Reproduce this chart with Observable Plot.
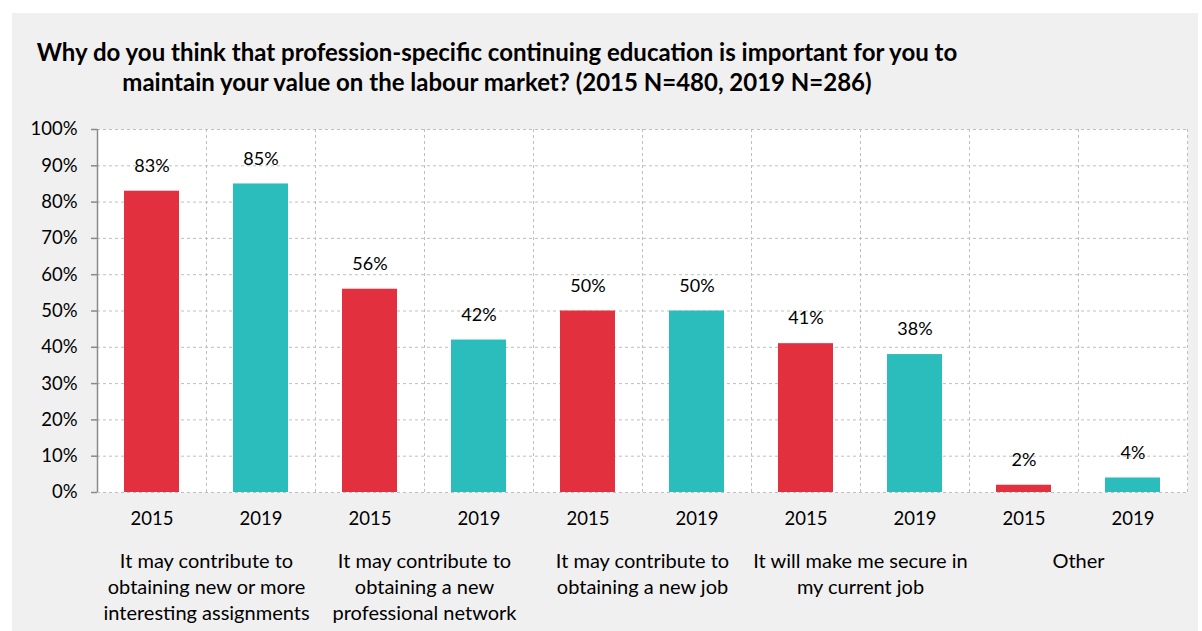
<!DOCTYPE html>
<html>
<head>
<meta charset="utf-8">
<script src="https://cdn.jsdelivr.net/npm/d3@7"></script>
<script src="https://cdn.jsdelivr.net/npm/@observablehq/plot@0.6"></script>
<style>
  body { margin: 0; background: #ffffff; font-family: Lato, "Open Sans", sans-serif; }
  #panel { position: absolute; left: 12px; top: 13px; width: 1186px; height: 618px; background: #f0f0f0; }
  #title { position: absolute; left: 12px; top: 37px; width: 970px; text-align: center; font-weight: bold; font-size: 24px; line-height: 30px; color: #000; }
  #chart { position: absolute; left: 0; top: 100px; }
</style>
</head>
<body>
<div id="panel"></div>
<div id="title">Why do you think that profession-specific continuing education is important for you to<br>maintain your value on the labour market? (2015 N=480, 2019 N=286)</div>
<div id="chart"></div>
<script>
const categories = [
  "It may contribute to\nobtaining new or more\ninteresting assignments",
  "It may contribute to\nobtaining a new\nprofessional network",
  "It may contribute to\nobtaining a new job",
  "It will make me secure in\nmy current job",
  "Other"
];
const years = ["2015", "2019"];
const values2015 = [83, 56, 50, 41, 2];
const values2019 = [85, 42, 50, 38, 4];
const yTicks = [0, 10, 20, 30, 40, 50, 60, 70, 80, 90, 100];
const colors = ["#e3303e", "#2bbdbc"];

const rows = [];
categories.forEach((c, k) => {
  rows.push({i: 2 * k, year: years[0], value: values2015[k], category: c});
  rows.push({i: 2 * k + 1, year: years[1], value: values2019[k], category: c});
});
const catRows = categories.map((c, k) => ({pos: 2 * k + 1, label: c}));
const gridXs = d3.range(1, rows.length + 1);

const chart = Plot.plot({
  width: 1202,
  height: 531,
  marginLeft: 97,
  marginRight: 15,
  marginTop: 29,
  marginBottom: 139,
  style: {background: "transparent", fontFamily: "Lato, 'Open Sans', sans-serif", color: "#000"},
  x: {domain: [0, rows.length], axis: null},
  y: {domain: [0, 100], axis: null},
  color: {domain: years, range: colors},
  marks: [
    Plot.frame({fill: "white", stroke: "none"}),
    Plot.gridY(yTicks, {stroke: "#bfbfbf", strokeOpacity: 1, strokeDasharray: "3,3"}),
    Plot.gridX(gridXs, {stroke: "#bfbfbf", strokeOpacity: 1, strokeDasharray: "3,3"}),
    Plot.rectY(rows, {x1: "i", x2: d => d.i + 1, y1: 0, y2: "value", fill: "year", insetLeft: 27, insetRight: 27}),
    Plot.ruleX([0], {stroke: "#8a8a8a", strokeWidth: 1.5}),
    Plot.axisY(yTicks, {label: null, tickSize: 6, tickPadding: 14, stroke: "#8a8a8a", strokeWidth: 1.5, tickFormat: d => d + "%", fontSize: 18.5, fill: "#000"}),
    Plot.text(rows, {x: d => d.i + 0.5, y: "value", dy: -25, text: d => d.value + "%", fontSize: 18, fill: "#000"}),
    Plot.text(rows, {x: d => d.i + 0.5, y: 0, dy: 27, text: "year", fontSize: 18.5, fill: "#000"}),
    Plot.text(catRows, {x: "pos", y: 0, dy: 57, text: "label", lineAnchor: "top", lineHeight: 1.3, fontSize: 20, fill: "#000"})
  ]
});
document.getElementById("chart").appendChild(chart);
</script>
</body>
</html>
